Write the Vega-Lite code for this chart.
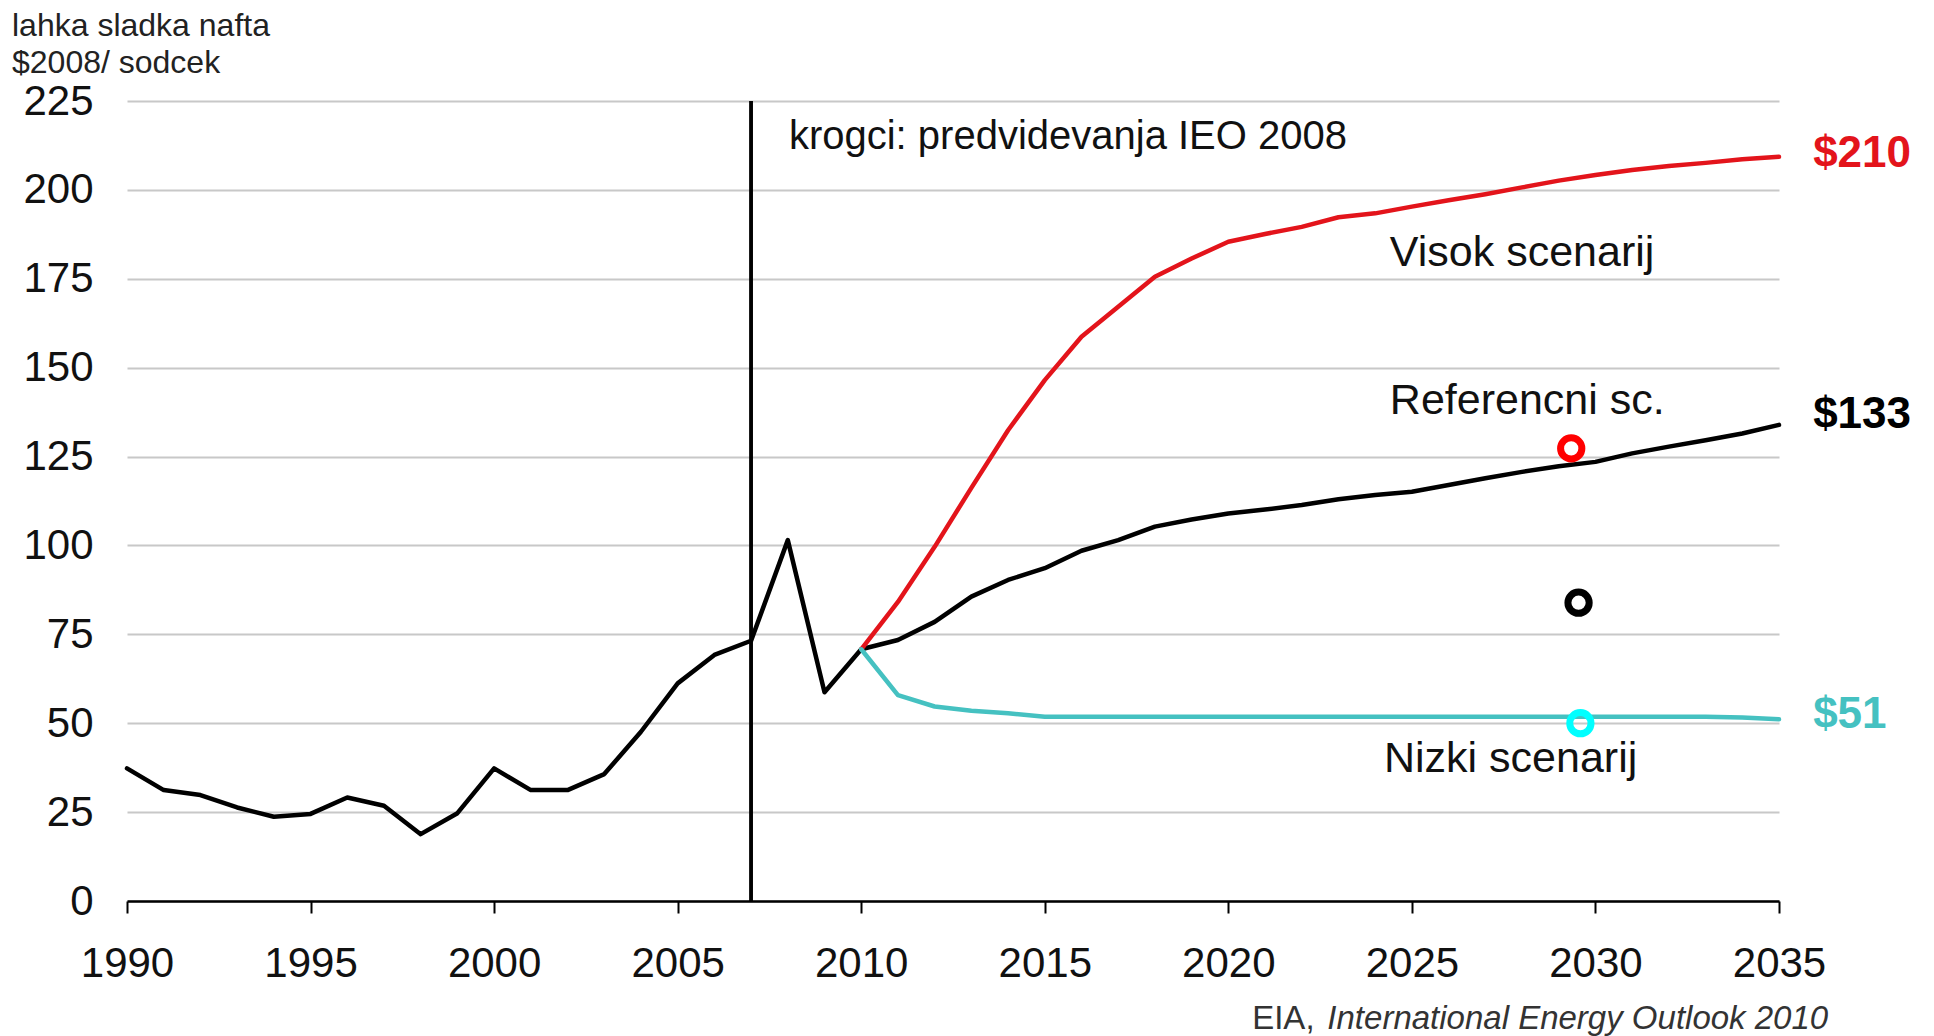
{
  "$schema": "https://vega.github.io/schema/vega-lite/v6.json",
  "autosize": {"type": "none"},
  "padding": {"left": 127, "top": 101, "right": 155, "bottom": 135},
  "width": 1652,
  "height": 800,
  "background": "white",
  "config": {
    "font": "Liberation Sans",
    "view": {"stroke": null},
    "axis": {"labelFont": "Liberation Sans", "titleFont": "Liberation Sans"}
  },
  "title": {
    "text": ["lahka sladka nafta", "$2008/ sodcek"],
    "anchor": "start",
    "frame": "group",
    "fontSize": 32,
    "fontWeight": "normal",
    "color": "#222222",
    "lineHeight": 37,
    "dx": -115,
    "offset": 0
  },
  "datasets": {
    "lines": [
      {"year": 1990, "price": 37.3, "series": "ref"},
      {"year": 1991, "price": 31.2, "series": "ref"},
      {"year": 1992, "price": 29.8, "series": "ref"},
      {"year": 1993, "price": 26.3, "series": "ref"},
      {"year": 1994, "price": 23.7, "series": "ref"},
      {"year": 1995, "price": 24.5, "series": "ref"},
      {"year": 1996, "price": 29.1, "series": "ref"},
      {"year": 1997, "price": 26.8, "series": "ref"},
      {"year": 1998, "price": 18.8, "series": "ref"},
      {"year": 1999, "price": 24.7, "series": "ref"},
      {"year": 2000, "price": 37.3, "series": "ref"},
      {"year": 2001, "price": 31.2, "series": "ref"},
      {"year": 2002, "price": 31.2, "series": "ref"},
      {"year": 2003, "price": 35.7, "series": "ref"},
      {"year": 2004, "price": 47.6, "series": "ref"},
      {"year": 2005, "price": 61.2, "series": "ref"},
      {"year": 2006, "price": 69.2, "series": "ref"},
      {"year": 2007, "price": 73.2, "series": "ref"},
      {"year": 2008, "price": 101.5, "series": "ref"},
      {"year": 2009, "price": 58.7, "series": "ref"},
      {"year": 2010, "price": 70.8, "series": "ref"},
      {"year": 2011, "price": 73.4, "series": "ref"},
      {"year": 2012, "price": 78.5, "series": "ref"},
      {"year": 2013, "price": 85.6, "series": "ref"},
      {"year": 2014, "price": 90.3, "series": "ref"},
      {"year": 2015, "price": 93.6, "series": "ref"},
      {"year": 2016, "price": 98.5, "series": "ref"},
      {"year": 2017, "price": 101.5, "series": "ref"},
      {"year": 2018, "price": 105.3, "series": "ref"},
      {"year": 2019, "price": 107.3, "series": "ref"},
      {"year": 2020, "price": 109.0, "series": "ref"},
      {"year": 2021, "price": 110.1, "series": "ref"},
      {"year": 2022, "price": 111.4, "series": "ref"},
      {"year": 2023, "price": 113.0, "series": "ref"},
      {"year": 2024, "price": 114.2, "series": "ref"},
      {"year": 2025, "price": 115.1, "series": "ref"},
      {"year": 2026, "price": 117.0, "series": "ref"},
      {"year": 2027, "price": 118.9, "series": "ref"},
      {"year": 2028, "price": 120.7, "series": "ref"},
      {"year": 2029, "price": 122.3, "series": "ref"},
      {"year": 2030, "price": 123.5, "series": "ref"},
      {"year": 2031, "price": 125.9, "series": "ref"},
      {"year": 2032, "price": 127.8, "series": "ref"},
      {"year": 2033, "price": 129.6, "series": "ref"},
      {"year": 2034, "price": 131.5, "series": "ref"},
      {"year": 2035, "price": 133.9, "series": "ref"},
      {"year": 2010, "price": 70.8, "series": "high"},
      {"year": 2011, "price": 84.1, "series": "high"},
      {"year": 2012, "price": 99.6, "series": "high"},
      {"year": 2013, "price": 116.2, "series": "high"},
      {"year": 2014, "price": 132.4, "series": "high"},
      {"year": 2015, "price": 146.5, "series": "high"},
      {"year": 2016, "price": 158.7, "series": "high"},
      {"year": 2017, "price": 167.1, "series": "high"},
      {"year": 2018, "price": 175.6, "series": "high"},
      {"year": 2019, "price": 180.7, "series": "high"},
      {"year": 2020, "price": 185.4, "series": "high"},
      {"year": 2021, "price": 187.6, "series": "high"},
      {"year": 2022, "price": 189.6, "series": "high"},
      {"year": 2023, "price": 192.3, "series": "high"},
      {"year": 2024, "price": 193.4, "series": "high"},
      {"year": 2025, "price": 195.3, "series": "high"},
      {"year": 2026, "price": 197.1, "series": "high"},
      {"year": 2027, "price": 198.8, "series": "high"},
      {"year": 2028, "price": 200.7, "series": "high"},
      {"year": 2029, "price": 202.6, "series": "high"},
      {"year": 2030, "price": 204.2, "series": "high"},
      {"year": 2031, "price": 205.6, "series": "high"},
      {"year": 2032, "price": 206.7, "series": "high"},
      {"year": 2033, "price": 207.6, "series": "high"},
      {"year": 2034, "price": 208.6, "series": "high"},
      {"year": 2035, "price": 209.3, "series": "high"},
      {"year": 2010, "price": 70.8, "series": "low"},
      {"year": 2011, "price": 57.9, "series": "low"},
      {"year": 2012, "price": 54.7, "series": "low"},
      {"year": 2013, "price": 53.5, "series": "low"},
      {"year": 2014, "price": 52.8, "series": "low"},
      {"year": 2015, "price": 51.8, "series": "low"},
      {"year": 2016, "price": 51.8, "series": "low"},
      {"year": 2017, "price": 51.8, "series": "low"},
      {"year": 2018, "price": 51.8, "series": "low"},
      {"year": 2019, "price": 51.8, "series": "low"},
      {"year": 2020, "price": 51.8, "series": "low"},
      {"year": 2021, "price": 51.8, "series": "low"},
      {"year": 2022, "price": 51.8, "series": "low"},
      {"year": 2023, "price": 51.8, "series": "low"},
      {"year": 2024, "price": 51.8, "series": "low"},
      {"year": 2025, "price": 51.8, "series": "low"},
      {"year": 2026, "price": 51.8, "series": "low"},
      {"year": 2027, "price": 51.8, "series": "low"},
      {"year": 2028, "price": 51.8, "series": "low"},
      {"year": 2029, "price": 51.8, "series": "low"},
      {"year": 2030, "price": 51.8, "series": "low"},
      {"year": 2031, "price": 51.8, "series": "low"},
      {"year": 2032, "price": 51.8, "series": "low"},
      {"year": 2033, "price": 51.8, "series": "low"},
      {"year": 2034, "price": 51.6, "series": "low"},
      {"year": 2035, "price": 51.1, "series": "low"}
    ],
    "circles": [
      {"year": 2029.34, "price": 127.3, "series": "high"},
      {"year": 2029.54, "price": 83.9, "series": "ref"},
      {"year": 2029.59, "price": 50.0, "series": "low"}
    ],
    "labels": [
      {"year": 2008.03, "price": 215.0, "text": "krogci: predvidevanja IEO 2008", "size": "small"},
      {"year": 2024.4, "price": 182.3, "text": "Visok scenarij", "size": "big"},
      {"year": 2024.4, "price": 140.7, "text": "Referencni sc.", "size": "big"},
      {"year": 2024.24, "price": 39.9, "text": "Nizki scenarij", "size": "big"}
    ],
    "ends": [
      {"year": 2035.93, "price": 210.0, "text": "$210", "series": "high"},
      {"year": 2035.93, "price": 136.6, "text": "$133", "series": "ref"},
      {"year": 2035.93, "price": 52.3, "text": "$51", "series": "low"}
    ],
    "source": [
      {"year": 2020.65, "price": -33.2, "text": "EIA,", "style": "normal"},
      {"year": 2036.34, "price": -33.2, "text": "International Energy Outlook 2010", "style": "italic"}
    ]
  },
  "layer": [
    {
      "data": {"name": "lines"},
      "mark": {"type": "line", "strokeWidth": 4.5, "strokeJoin": "round", "strokeCap": "round"},
      "encoding": {
        "x": {
          "field": "year", "type": "quantitative",
          "scale": {"domain": [1990, 2035], "nice": false, "zero": false},
          "axis": {
            "values": [1990, 1995, 2000, 2005, 2010, 2015, 2020, 2025, 2030, 2035],
            "format": "d",
            "title": null,
            "grid": false,
            "domainColor": "#000000",
            "domainWidth": 2.5,
            "tickColor": "#000000",
            "tickWidth": 2,
            "tickSize": 12,
            "labelFontSize": 42,
            "labelColor": "#111111",
            "labelPadding": 30,
            "labelFlush": false,
            "labelOverlap": false
          }
        },
        "y": {
          "field": "price", "type": "quantitative",
          "scale": {"domain": [0, 225], "nice": false},
          "axis": {
            "values": [0, 25, 50, 75, 100, 125, 150, 175, 200, 225],
            "title": null,
            "grid": true,
            "gridColor": "#c8c8c8",
            "gridWidth": 2,
            "domain": false,
            "ticks": false,
            "labelFontSize": 42,
            "labelColor": "#111111",
            "labelPadding": 34,
            "labelFlush": false,
            "labelOverlap": false
          }
        },
        "color": {
          "field": "series", "type": "nominal",
          "scale": {"domain": ["ref", "high", "low"], "range": ["#000000", "#e3141b", "#45c1c1"]},
          "legend": null
        },
        "order": {"field": "year", "type": "quantitative"}
      }
    },
    {
      "mark": {"type": "rule", "color": "#000000", "strokeWidth": 3.5},
      "encoding": {"x": {"datum": 2007, "type": "quantitative"}}
    },
    {
      "data": {"name": "circles"},
      "mark": {"type": "point", "shape": "circle", "filled": false, "size": 452, "strokeWidth": 7, "opacity": 1},
      "encoding": {
        "x": {"field": "year", "type": "quantitative"},
        "y": {"field": "price", "type": "quantitative"},
        "stroke": {
          "field": "series", "type": "nominal",
          "scale": {"domain": ["ref", "high", "low"], "range": ["#000000", "#ff0000", "#00ffff"]},
          "legend": null
        }
      }
    },
    {
      "data": {"name": "labels"},
      "transform": [{"filter": "datum.size === 'big'"}],
      "mark": {"type": "text", "align": "left", "baseline": "middle", "fontSize": 43, "color": "#111111"},
      "encoding": {
        "x": {"field": "year", "type": "quantitative"},
        "y": {"field": "price", "type": "quantitative"},
        "text": {"field": "text"}
      }
    },
    {
      "data": {"name": "labels"},
      "transform": [{"filter": "datum.size === 'small'"}],
      "mark": {"type": "text", "align": "left", "baseline": "middle", "fontSize": 40, "color": "#111111"},
      "encoding": {
        "x": {"field": "year", "type": "quantitative"},
        "y": {"field": "price", "type": "quantitative"},
        "text": {"field": "text"}
      }
    },
    {
      "data": {"name": "ends"},
      "mark": {"type": "text", "align": "left", "baseline": "middle", "fontSize": 44, "fontWeight": "bold"},
      "encoding": {
        "x": {"field": "year", "type": "quantitative"},
        "y": {"field": "price", "type": "quantitative"},
        "text": {"field": "text"},
        "color": {
          "field": "series", "type": "nominal",
          "scale": {"domain": ["ref", "high", "low"], "range": ["#111111", "#e8141c", "#45c1c1"]},
          "legend": null
        }
      }
    },
    {
      "data": {"name": "source"},
      "transform": [{"filter": "datum.style === 'normal'"}],
      "mark": {"type": "text", "align": "left", "baseline": "middle", "fontSize": 33, "color": "#333333"},
      "encoding": {
        "x": {"field": "year", "type": "quantitative"},
        "y": {"field": "price", "type": "quantitative"},
        "text": {"field": "text"}
      }
    },
    {
      "data": {"name": "source"},
      "transform": [{"filter": "datum.style === 'italic'"}],
      "mark": {"type": "text", "align": "right", "baseline": "middle", "fontSize": 33, "fontStyle": "italic", "color": "#333333"},
      "encoding": {
        "x": {"field": "year", "type": "quantitative"},
        "y": {"field": "price", "type": "quantitative"},
        "text": {"field": "text"}
      }
    }
  ]
}
